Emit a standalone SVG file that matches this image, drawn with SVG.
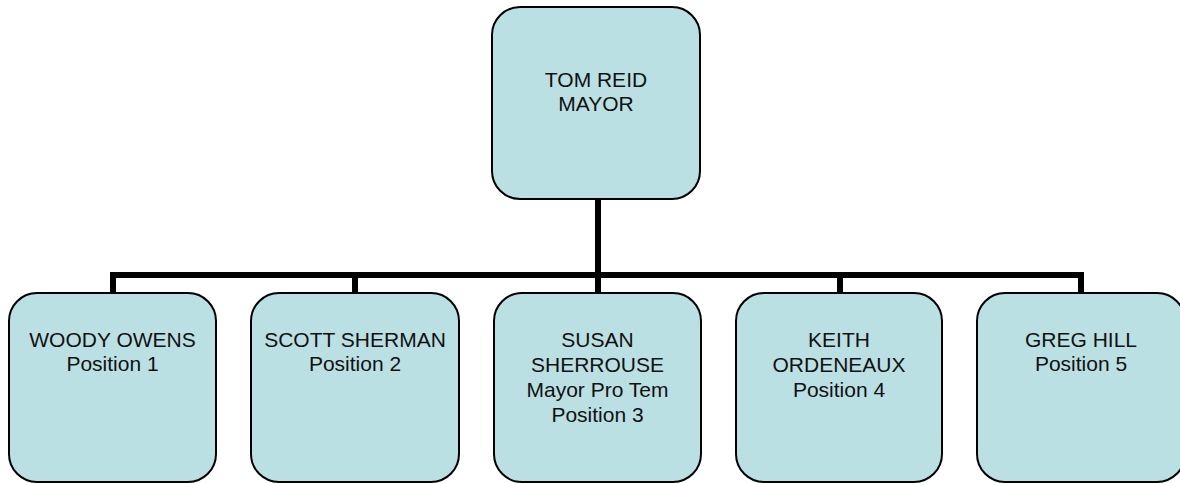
<svg xmlns="http://www.w3.org/2000/svg" width="1180" height="483" viewBox="0 0 1180 483">
  <style>
    .box { fill: #BBE0E3; stroke: #000; stroke-width: 2; }
    .lbl { font-family: "Liberation Sans", Arial, sans-serif; font-size: 21px; fill: #111; text-anchor: middle; }
    .wire { fill: none; stroke: #000; stroke-width: 6; stroke-linejoin: miter; stroke-linecap: butt; }
  </style>
  <rect width="1180" height="483" fill="#fff"/>

  <!-- connectors -->
  <g id="connectors">
    <path class="wire" d="M598 199 V275"/>
    <path class="wire" d="M113 293 V275 H1081 V293"/>
    <path class="wire" d="M355 275 V293"/>
    <path class="wire" d="M598 275 V293"/>
    <path class="wire" d="M840 275 V293"/>
  </g>

  <g id="mayor">
    <rect class="box" x="492" y="7" width="208" height="192" rx="28"/>
    <text class="lbl" x="596" y="87">TOM REID</text>
    <text class="lbl" x="596" y="111">MAYOR</text>
  </g>

  <g id="position1">
    <rect class="box" x="9" y="293" width="207" height="189" rx="28"/>
    <text class="lbl" x="112.5" y="347">WOODY OWENS</text>
    <text class="lbl" x="112.5" y="371">Position 1</text>
  </g>

  <g id="position2">
    <rect class="box" x="251" y="293" width="208" height="189" rx="28"/>
    <text class="lbl" x="355" y="347">SCOTT SHERMAN</text>
    <text class="lbl" x="355" y="371">Position 2</text>
  </g>

  <g id="position3">
    <rect class="box" x="494" y="293" width="207" height="189" rx="28"/>
    <text class="lbl" x="597.5" y="347">SUSAN</text>
    <text class="lbl" x="597.5" y="372">SHERROUSE</text>
    <text class="lbl" x="597.5" y="397">Mayor Pro Tem</text>
    <text class="lbl" x="597.5" y="422">Position 3</text>
  </g>

  <g id="position4">
    <rect class="box" x="736" y="293" width="206" height="189" rx="28"/>
    <text class="lbl" x="839" y="347">KEITH</text>
    <text class="lbl" x="839" y="372">ORDENEAUX</text>
    <text class="lbl" x="839" y="397">Position 4</text>
  </g>

  <g id="position5">
    <rect class="box" x="977" y="293" width="208" height="189" rx="28"/>
    <text class="lbl" x="1081" y="347">GREG HILL</text>
    <text class="lbl" x="1081" y="371">Position 5</text>
  </g>
</svg>
